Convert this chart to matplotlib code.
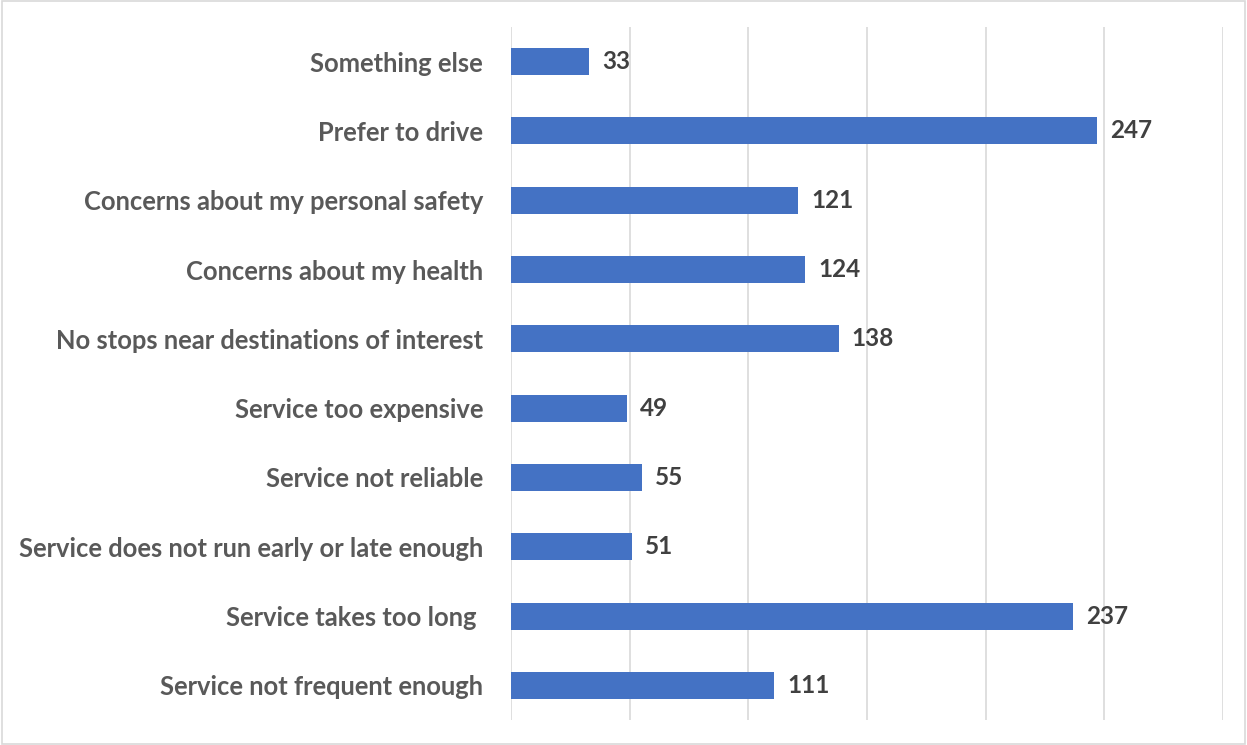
import matplotlib.pyplot as plt
from matplotlib.patches import Rectangle

categories = [
    "Service not frequent enough",
    "Service takes too long ",
    "Service does not run early or late enough",
    "Service not reliable",
    "Service too expensive",
    "No stops near destinations of interest",
    "Concerns about my health",
    "Concerns about my personal safety",
    "Prefer to drive",
    "Something else",
]
counts = [111, 237, 51, 55, 49, 138, 124, 121, 247, 33]

plt.rcParams['font.family'] = ['Lato', 'DejaVu Sans']

fig = plt.figure(figsize=(12.47, 7.45), dpi=100)
ax = fig.add_axes([511 / 1247, 1 - 720 / 745, 712 / 1247, 693 / 745])

ypos = list(range(len(categories)))
ax.barh(ypos, counts, height=0.39, color='#4472C4', zorder=3)

for y, v in zip(ypos, counts):
    ax.text(v + 5.5, y, str(v), va='center', ha='left', fontsize=17.5,
            fontweight='bold', color='#404040')

ax.set_xlim(0, 300)
ax.set_ylim(-0.5, len(categories) - 0.5)
ax.set_xticks(range(0, 301, 50))
ax.set_xticklabels([])
ax.tick_params(axis='x', length=0)
ax.set_yticks(ypos)
ax.set_yticklabels(categories, fontsize=18.4, fontweight='bold', color='#595959')
ax.tick_params(axis='y', length=0, pad=20)
ax.grid(axis='x', color='#d9d9d9', linewidth=1.2, zorder=0)
for s in ax.spines.values():
    s.set_visible(False)

fig.patches.append(Rectangle((0.0015, 0.002), 0.997, 0.996, transform=fig.transFigure,
                             fill=False, edgecolor='#d9d9d9', linewidth=1.2))

fig.savefig('out.png', dpi=100)
